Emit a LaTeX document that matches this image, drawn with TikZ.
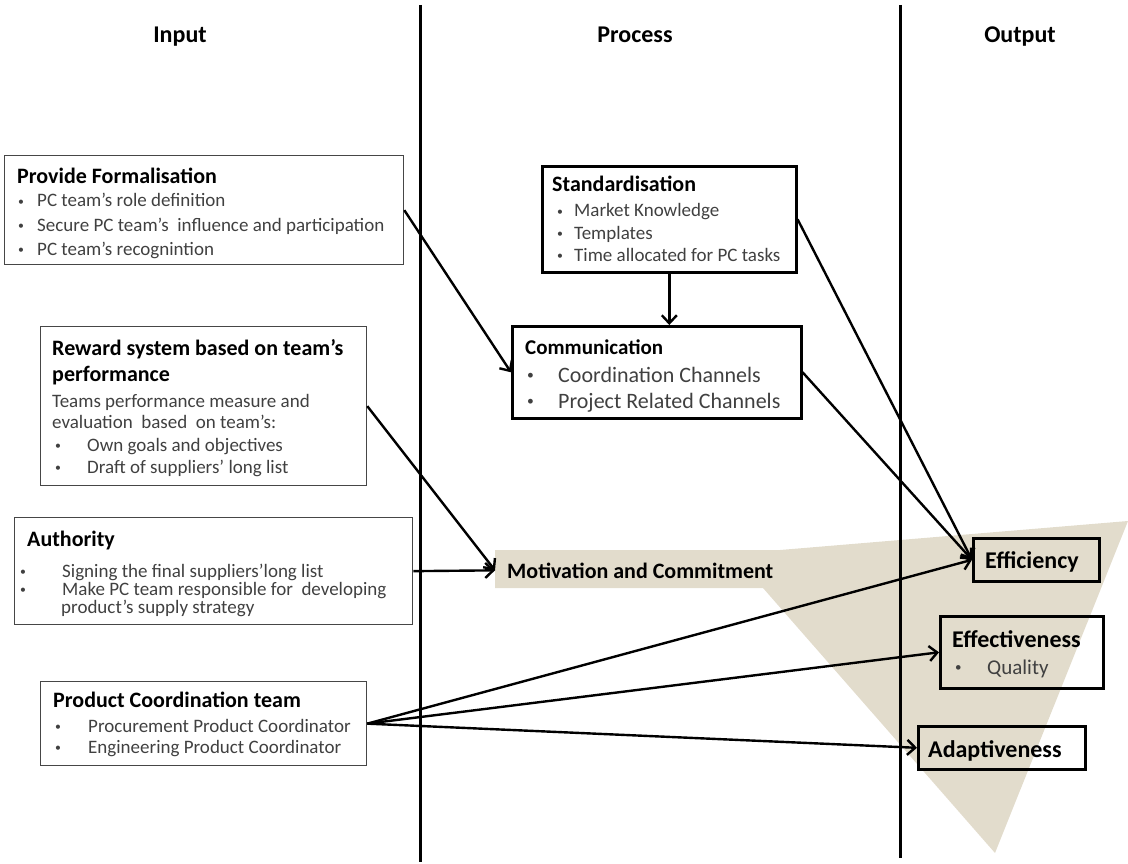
\documentclass[tikz,border=0pt]{standalone}
\usepackage{fontspec}
\usepackage{graphicx}
\setmainfont{Carlito}
\usetikzlibrary{arrows.meta}
\definecolor{beige}{RGB}{226,220,204}
\definecolor{txtgray}{RGB}{64,64,64}
\definecolor{boxgray}{RGB}{70,70,70}
\newcommand\mybul[2]{\makebox[#1][l]{\raisebox{0.1em}{\scalebox{0.62}{•}}}#2}
\begin{document}
\begin{tikzpicture}[x=1pt,y=-1pt,
 ibox/.style={draw=boxgray, line width=1.3pt, anchor=north west, inner sep=0pt},
 pbox/.style={draw=black, line width=2.6pt, anchor=north west, inner sep=0pt},
 hdr/.style={anchor=base, inner sep=0pt, font=\bfseries\fontsize{24}{24}\selectfont},
 ttl/.style={anchor=base west, inner sep=0pt, font=\bfseries\fontsize{22}{22}\selectfont},
 txt/.style={anchor=base west, inner sep=0pt, text=txtgray, font=\fontsize{19}{19}\selectfont},
 big/.style={anchor=base west, inner sep=0pt, text=txtgray, font=\fontsize{22}{22}\selectfont},
 outt/.style={anchor=base west, inner sep=0pt, font=\bfseries\fontsize{24}{24}\selectfont},
 arr/.style={line width=2.4pt, -{Straight Barb[length=8pt,width=15pt]}},
 vline/.style={line width=3pt}]
\useasboundingbox (0,0) rectangle (1128,864);
% background banner / triangle
\fill[beige] (495,550) -- (780,550) -- (1128,521) -- (995,853) -- (763,588) -- (495,588) -- cycle;
% column separators
\coordinate (v1t) at (420,5);
\coordinate (v1b) at (420,862);
\coordinate (v2t) at (900,5);
\coordinate (v2b) at (900,858);
\draw[vline] (v1t) -- (v1b);
\draw[vline] (v2t) -- (v2b);
% headers
\node[hdr] (hin) at (180,43) {Input};
\node[hdr] (hpr) at (635,43) {Process};
\node[hdr] (hout) at (1020,43) {Output};
% input boxes
\node[ibox, minimum width=399pt, minimum height=109pt] (pf) at (4,155) {};
\node[ttl] (pft) at (17,184) {Provide Formalisation};
\node[txt] (pf1) at (18,207) {\mybul{19pt}{PC team’s role definition}};
\node[txt] (pf2) at (18,231) {\mybul{19pt}{Secure PC team’s\ \ influence and participation}};
\node[txt] (pf3) at (18,255) {\mybul{19pt}{PC team’s recognintion}};

\node[ibox, minimum width=326pt, minimum height=159pt] (rw) at (40,326) {};
\node[ttl] (rwt1) at (52,355) {Reward system based on team’s};
\node[ttl] (rwt2) at (52,381) {performance};
\node[txt] (rw1) at (52,407) {Teams performance measure and};
\node[txt] (rw2) at (52,428) {evaluation\ \ based\ \ on team’s:};
\node[txt] (rw3) at (55,451) {\mybul{32pt}{Own goals and objectives}};
\node[txt] (rw4) at (55,473) {\mybul{32pt}{Draft of suppliers’ long list}};

\node[ibox, minimum width=398pt, minimum height=107pt] (au) at (14,517) {};
\node[ttl] (aut) at (27,546) {Authority};
\node[txt] (au1) at (20,577) {\mybul{42pt}{Signing the final suppliers’long list}};
\node[txt] (au2) at (20,595) {\mybul{42pt}{Make PC team responsible for\ \ developing}};
\node[txt] (au3) at (61,613) {product’s supply strategy};

\node[ibox, minimum width=326pt, minimum height=84pt] (pc) at (40,681) {};
\node[ttl] (pct) at (53,707) {Product Coordination team};
\node[txt] (pc1) at (55,732) {\mybul{33pt}{Procurement Product Coordinator}};
\node[txt] (pc2) at (55,753) {\mybul{33pt}{Engineering Product Coordinator}};

% process boxes
\node[pbox, minimum width=254pt, minimum height=106pt] (st) at (541,165) {};
\node[ttl] (stt) at (552,192) {Standardisation};
\node[txt] (st1) at (557,217) {\mybul{17pt}{Market Knowledge}};
\node[txt] (st2) at (557,239) {\mybul{17pt}{Templates}};
\node[txt] (st3) at (557,261) {\mybul{17pt}{Time allocated for PC tasks}};

\node[pbox, minimum width=289pt, minimum height=92pt] (cm) at (511,325) {};
\node[ttl, font=\bfseries\fontsize{21}{21}\selectfont] (cmt) at (525,354) {Communication};
\node[big] (cm1) at (527,382) {\mybul{31pt}{Coordination Channels}};
\node[big] (cm2) at (527,408) {\mybul{31pt}{Project Related Channels}};

\node[anchor=base west, inner xsep=12pt, inner ysep=0pt, font=\bfseries\fontsize{22}{22}\selectfont] (mot) at (495,578) {Motivation and Commitment};

% output boxes
\node[pbox, minimum width=126pt, minimum height=43pt] (ef) at (972,537) {};
\node[outt] (eft) at (985,568) {Efficiency};
\node[pbox, minimum width=163pt, minimum height=72pt] (ev) at (939,615) {};
\node[outt] (evt) at (952,647) {Effectiveness};
\node[txt, font=\fontsize{21}{21}\selectfont] (ev1) at (955,674) {\mybul{32pt}{Quality}};
\node[pbox, minimum width=167pt, minimum height=43pt] (ad) at (917,725) {};
\node[outt] (adt) at (928,757) {Adaptiveness};

% connectors
\draw[arr] (pf.east) -- (cm.west);
\draw[arr] (st.south) -- (st.south |- cm.north);
\draw[arr] (st.east) -- (ef.west);
\draw[arr] (cm.east) -- (ef.west);
\draw[arr] (rw.east) -- (mot.west);
\draw[arr] (au.east) -- (mot.west);
\draw[arr] (pc.east) -- (ef.west);
\draw[arr] (pc.east) -- (ev.west);
\draw[arr] (pc.east) -- (ad.west);
\end{tikzpicture}
\end{document}
